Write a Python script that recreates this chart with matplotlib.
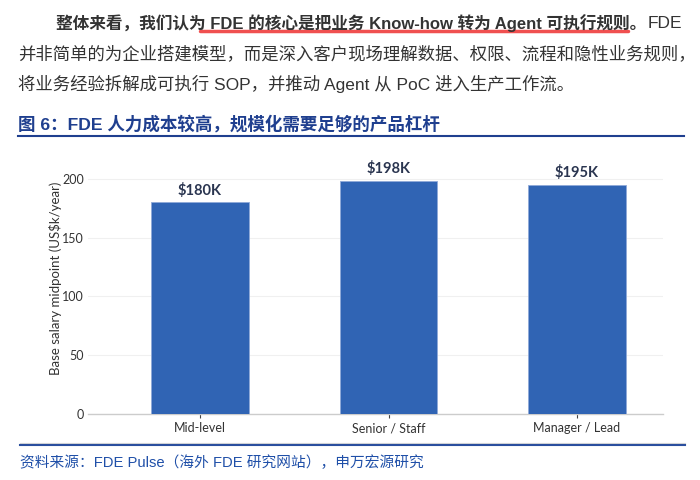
import matplotlib
matplotlib.use("Agg")
import matplotlib.pyplot as plt
from matplotlib.lines import Line2D

levels = ["Mid-level", "Senior / Staff", "Manager / Lead"]
salaries = [180, 198, 195]
bar_labels = ["$180K", "$198K", "$195K"]
y_ticks = [0, 50, 100, 150, 200]

W, H = 700, 480
body_font = ["Liberation Sans", "Noto Sans CJK SC"]
chart_font = ["Lato", "DejaVu Sans"]
blue_title = "#1f3f8f"
text_grey = "#333333"


def px(x, y):
    return x / W, 1 - y / H


fig = plt.figure(figsize=(7, 4.8), dpi=100)
fig.patch.set_facecolor("white")

# paragraph above the figure
fig.text(*px(56, 23), "整体来看，我们认为 FDE 的核心是把业务 Know-how 转为 Agent 可执行规则。",
         family=body_font, fontsize=12, fontweight="bold", color=text_grey, va="center")
fig.text(*px(682, 23), "FDE", family=body_font, fontsize=12.5, color=text_grey,
         va="center", ha="right")
fig.add_artist(Line2D([200 / W, 628 / W], [1 - 31 / H, 1 - 31 / H],
                      color="#f05050", lw=2.5, solid_capstyle="round"))
fig.text(*px(18, 54), "并非简单的为企业搭建模型，而是深入客户现场理解数据、权限、流程和隐性业务规则，",
         family=body_font, fontsize=12.5, color=text_grey, va="center")
fig.text(*px(18, 84), "将业务经验拆解成可执行 SOP，并推动 Agent 从 PoC 进入生产工作流。",
         family=body_font, fontsize=12.5, color=text_grey, va="center")

# figure title and rules
fig.text(*px(18, 124), "图 6：FDE 人力成本较高，规模化需要足够的产品杠杆",
         family=body_font, fontsize=12.6, fontweight="bold", color=blue_title, va="center")
fig.add_artist(Line2D([18 / W, 684 / W], [1 - 136 / H, 1 - 136 / H], color=blue_title, lw=1.5))
fig.add_artist(Line2D([20 / W, 685 / W], [1 - 443 / H, 1 - 443 / H], color="#d8d8d8", lw=0.8))
fig.add_artist(Line2D([20 / W, 685 / W], [1 - 445 / H, 1 - 445 / H], color="#2a4f9e", lw=1.5))
fig.text(*px(20, 463), "资料来源：FDE Pulse（海外 FDE 研究网站），申万宏源研究",
         family=body_font, fontsize=10.6, color="#1f4fa8", va="center")

# the chart
ax = fig.add_axes([88 / W, 1 - 414 / H, (663 - 88) / W, (414 - 167) / H])
x = range(len(levels))
ax.bar(x, salaries, width=0.515, color="#3064b4", edgecolor="#8fa9d8", linewidth=0.6, zorder=3)
for i, (v, lab) in enumerate(zip(salaries, bar_labels)):
    ax.text(i, v + 4, lab, ha="center", va="bottom", fontsize=10.5, fontweight="bold",
            color="#2a3550", family=chart_font)

ax.set_xlim(-0.594, 2.456)
ax.set_ylim(0, 210)
ax.set_yticks(y_ticks)
ax.set_xticks(list(x))
ax.set_xticklabels(levels)
ax.grid(axis="y", color="#f0f0f0", lw=0.8, zorder=0)
for s in ["top", "right", "left"]:
    ax.spines[s].set_visible(False)
ax.spines["bottom"].set_color("#cccccc")
ax.spines["bottom"].set_linewidth(1)
ax.tick_params(axis="y", length=0, pad=3, labelsize=9, labelcolor=text_grey)
ax.tick_params(axis="x", length=3, color="#444444", pad=3, labelsize=9, labelcolor=text_grey)
for t in ax.get_xticklabels() + ax.get_yticklabels():
    t.set_family(chart_font)
ax.set_ylabel("Base salary midpoint (US$k/year)", fontsize=9.5, color=text_grey,
              family=chart_font)
ax.yaxis.set_label_coords(-0.045, 0.55)

fig.savefig("out.png", dpi=100)
